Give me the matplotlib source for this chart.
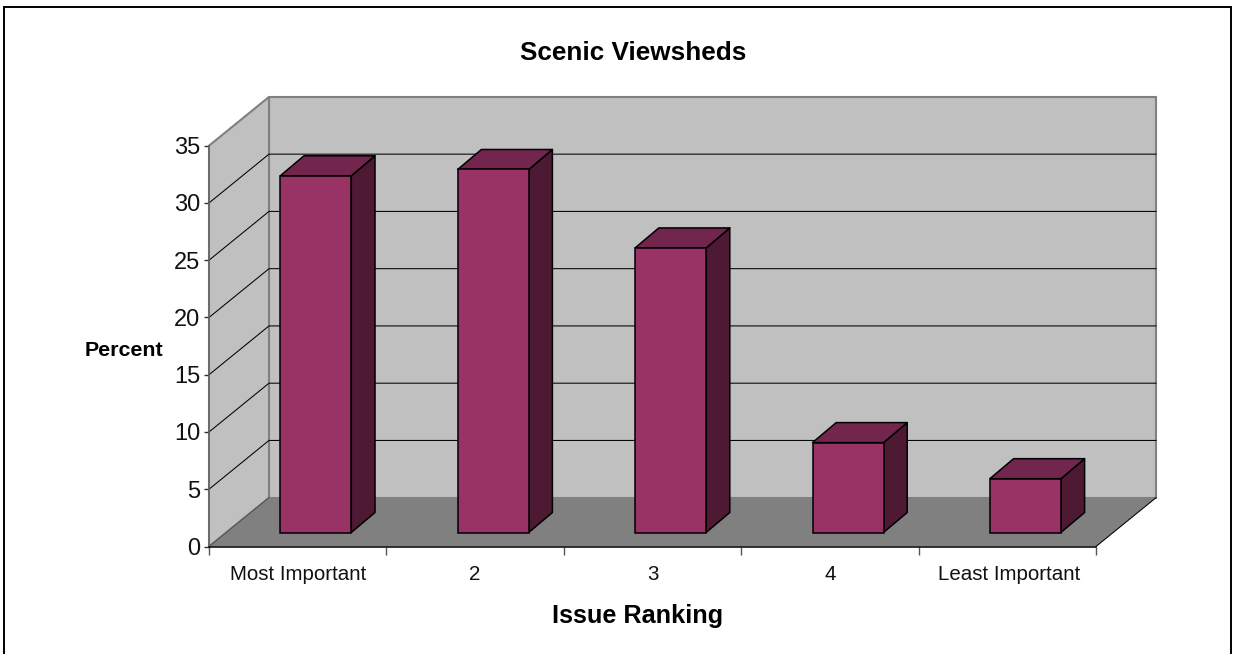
import matplotlib
matplotlib.use('Agg')
import matplotlib.pyplot as plt
from matplotlib.patches import Polygon, Rectangle

plt.rcParams['font.family'] = ['Liberation Sans', 'DejaVu Sans']

categories = ['Most Important', '2', '3', '4', 'Least Important']
values = [31.15, 31.7, 24.85, 7.85, 4.7]
y_ticks = [0, 5, 10, 15, 20, 25, 30, 35]

W, H = 1233, 654
x_left, x_right = 209, 1096
y_zero, y_top = 546.5, 145.7

# depth of the fake 3D box, in data units
px_x = (x_right - x_left) / len(categories)
px_y = (y_zero - y_top) / 35
dx = 60 / px_x
dy = 48.8 / px_y

# bar placement
bar_w = 71 / px_x
bar_x0 = (280.3 - x_left) / px_x
bar_y0 = (y_zero - 532.5) / px_y
bar_dx = 23.7 / px_x
bar_dy = 20 / px_y

wall = '#c0c0c0'
floor = '#808080'
edge_grey = '#808080'
front = '#993366'
top_c = '#73264d'
side_c = '#4d1933'

fig = plt.figure(figsize=(W / 100, H / 100), dpi=100)
fig.patch.set_facecolor('white')

# chart frame
fig.add_artist(Rectangle((3.5 / W, -0.02), (1231 - 3.5) / W, 1.02 - 6.5 / H,
                         transform=fig.transFigure, fill=False, ec='black', lw=1.4))

ax = fig.add_axes([x_left / W, 1 - y_zero / H, (x_right - x_left) / W, (y_zero - y_top) / H])
ax.set_xlim(0, len(categories))
ax.set_ylim(0, 35)
ax.patch.set_alpha(0)
n = len(categories)

# back wall, side wall, floor
ax.add_patch(Polygon([(dx, dy), (n + dx, dy), (n + dx, 35 + dy), (dx, 35 + dy)],
                     fc=wall, ec=edge_grey, lw=1.5, clip_on=False, zorder=1))
ax.add_patch(Polygon([(0, 0), (dx, dy), (dx, 35 + dy), (0, 35)],
                     fc=wall, ec=edge_grey, lw=1.5, clip_on=False, zorder=1))
ax.add_patch(Polygon([(0, 0), (n, 0), (n + dx, dy), (dx, dy)],
                     fc=floor, ec='none', clip_on=False, zorder=2))

# gridlines on both walls
for t in y_ticks[1:-1]:
    ax.plot([0, dx, n + dx], [t, t + dy, t + dy], color='black', lw=0.75,
            clip_on=False, zorder=1.5, solid_joinstyle='miter')
ax.plot([n, n + dx], [0, dy], color='black', lw=0.75, clip_on=False, zorder=2.5)
ax.plot([0, dx], [0, dy], color='#555555', lw=0.8, clip_on=False, zorder=2.5)

# bars
for i, v in enumerate(values):
    x0 = i + bar_x0
    x1 = x0 + bar_w
    y0 = bar_y0
    y1 = bar_y0 + v
    ax.add_patch(Polygon([(x1, y0), (x1 + bar_dx, y0 + bar_dy), (x1 + bar_dx, y1 + bar_dy), (x1, y1)],
                         fc=side_c, ec='black', lw=1.1, clip_on=False, zorder=3, joinstyle='round'))
    ax.add_patch(Polygon([(x0, y1), (x1, y1), (x1 + bar_dx, y1 + bar_dy), (x0 + bar_dx, y1 + bar_dy)],
                         fc=top_c, ec='black', lw=1.1, clip_on=False, zorder=3, joinstyle='round'))
    ax.add_patch(Rectangle((x0, y0), bar_w, v, fc=front, ec='black', lw=1.1, zorder=4))

for s in ['top', 'right']:
    ax.spines[s].set_visible(False)
ax.spines['left'].set_color('#666666')
ax.spines['left'].set_linewidth(1.1)
ax.spines['bottom'].set_color('black')
ax.spines['bottom'].set_linewidth(1.1)
ax.spines['left'].set_zorder(6)
ax.spines['bottom'].set_zorder(6)

ax.set_yticks(y_ticks)
ax.tick_params(axis='y', length=3.6, width=1, color='#333333', labelsize=17, pad=2.6, labelcolor='#111111')
ax.set_xticks(range(n + 1))
ax.set_xticklabels([])
ax.tick_params(axis='x', length=5.8, width=1, color='#555555')
for i, c in enumerate(categories):
    ax.text(i + 0.5 + (0.01 if i == n - 1 else 0), -(575 - y_zero) / px_y, c, ha='center', va='center',
            fontsize=14.8, color='#111111', clip_on=False)

fig.text(633.5 / W, 1 - 53.5 / H, 'Scenic Viewsheds', ha='center', va='center', fontsize=18.8, fontweight='bold')
fig.text(123.5 / W, 1 - 350.5 / H, 'Percent', ha='center', va='center', fontsize=15.4, fontweight='bold')
fig.text(638 / W, 1 - 616.5 / H, 'Issue Ranking', ha='center', va='center', fontsize=18.2, fontweight='bold')

fig.savefig('out.png', dpi=100)
